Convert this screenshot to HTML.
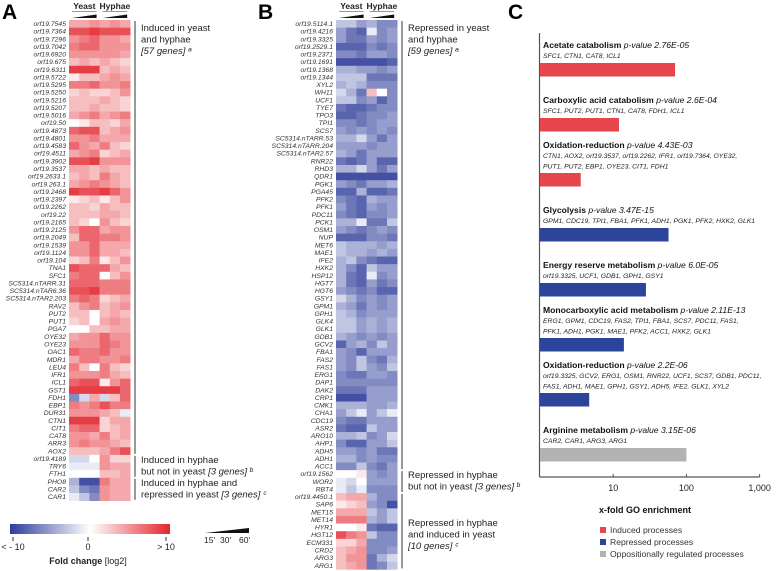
<!DOCTYPE html>
<html><head><meta charset="utf-8"><style>
body{margin:0;background:#fff}
svg{display:block;font-family:"Liberation Sans",sans-serif}
.g{font-size:6.8px;font-style:italic;fill:#333}
.br{font-size:9.5px;fill:#222}
.ct{font-size:8.6px;fill:#111}
.cg{font-size:6.8px;font-style:italic;fill:#222}
</style></head><body>
<svg id="fig" width="778" height="571" viewBox="0 0 778 571">
<text x="2" y="19" font-size="21" font-weight="bold">A</text>
<text x="258" y="19" font-size="21" font-weight="bold">B</text>
<text x="508" y="19" font-size="21" font-weight="bold">C</text>
<g id="A"></g>
<g id="B"></g>
<g id="C"></g>
<defs><linearGradient id="cb" x1="0" x2="1"><stop offset="0" stop-color="#2e3d9a"/><stop offset="0.5" stop-color="#ffffff"/><stop offset="1" stop-color="#e3262e"/></linearGradient></defs>
<g>
<rect x="10" y="524" width="160" height="10" fill="url(#cb)"/>
<line x1="13" y1="537" x2="13" y2="541" stroke="#333"/><line x1="88" y1="537" x2="88" y2="541" stroke="#333"/><line x1="166" y1="537" x2="166" y2="541" stroke="#333"/>
<text x="13" y="550" font-size="9" text-anchor="middle" fill="#222">&lt; - 10</text>
<text x="88" y="550" font-size="9" text-anchor="middle" fill="#222">0</text>
<text x="166" y="550" font-size="9" text-anchor="middle" fill="#222">&gt; 10</text>
<text x="88" y="564" font-size="9" text-anchor="middle" fill="#222"><tspan font-weight="bold">Fold change</tspan> [log2]</text>
</g>
<g>
<polygon points="205,533 249,528 249,533" fill="#111"/>
<text x="204" y="543" font-size="8.5" fill="#222">15'</text><text x="220" y="543" font-size="8.5" fill="#222">30'</text><text x="239" y="543" font-size="8.5" fill="#222">60'</text>
</g>
</svg>
<script>
const NS="http://www.w3.org/2000/svg";
const genesA=["orf19.7545","orf19.7364","orf19.7296","orf19.7042","orf19.6920","orf19.675","orf19.6311","orf19.5722","orf19.5295","orf19.5250","orf19.5216","orf19.5207","orf19.5016","orf19.50","orf19.4873","orf19.4801","orf19.4583","orf19.4511","orf19.3902","orf19.3537","orf19.2633.1","orf19.263.1","orf19.2468","orf19.2397","orf19.2262","orf19.22","orf19.2165","orf19.2125","orf19.2049","orf19.1539","orf19.1124","orf19.104","TNA1","SFC1","SC5314.nTARR.31","SC5314.nTAR6.36","SC5314.nTAR2.203","RAV2","PUT2","PUT1","PGA7","OYE32","OYE23","OAC1","MDR1","LEU4","IFR1","ICL1","GST1","FDH1","EBP1","DUR31","CTN1","CIT1","CAT8","ARR3","AOX2","orf19.4189","TRY6","FTH1","PHO8","CAR2","CAR1"];
const valuesA=[[4,4,5,4,5,4],[8,8,9,8,8,8],[5,6,7,5,5,4],[6,7,7,5,5,5],[5,5,5,5,5,4],[3,4,3,4,3,2],[9,9,9,3,4,3],[1,3,3,4,5,4],[6,6,7,5,5,6],[2,3,2,2,3,5],[3,3,3,4,3,2],[3,3,4,3,3,2],[4,5,6,4,5,6],[0,1,3,3,2,4],[7,8,8,3,4,5],[5,5,6,4,4,4],[7,5,4,6,3,2],[4,5,6,2,3,4],[8,8,9,5,5,5],[4,4,3,4,3,3],[3,4,3,6,4,3],[4,5,6,5,4,3],[9,8,8,9,7,5],[1,2,3,1,3,5],[3,3,2,4,3,3],[3,3,3,4,4,3],[3,2,0,5,3,2],[5,7,7,4,5,5],[3,7,7,6,6,5],[5,5,7,4,4,4],[5,5,7,4,4,3],[2,3,6,1,3,5],[8,7,7,7,4,3],[6,7,7,0,3,5],[7,7,7,6,6,6],[8,8,9,6,6,6],[6,7,6,2,3,4],[3,5,6,3,4,5],[3,3,0,3,4,3],[2,3,0,4,5,4],[0,0,3,3,4,4],[4,5,5,7,5,5],[5,5,5,7,6,5],[7,6,6,7,5,5],[4,6,6,5,5,6],[6,3,0,6,3,2],[5,5,5,6,4,3],[7,8,8,1,5,7],[9,9,9,9,9,7],[-6,-2,4,-2,3,7],[6,5,6,8,6,6],[5,5,5,4,3,-1],[9,9,9,2,4,4],[6,7,7,2,3,4],[5,5,4,6,3,4],[5,6,5,5,4,3],[3,3,3,4,6,8],[-2,-2,0,5,2,2],[-1,-1,-1,5,4,4],[0,0,0,3,3,4],[-4,-9,-9,6,4,4],[-3,-6,-7,5,4,4],[-1,-3,-6,5,4,4]];
const genesB=["orf19.5114.1","orf19.4216","orf19.3325","orf19.2529.1","orf19.2371","orf19.1691","orf19.1368","orf19.1344","XYL2","WH11","UCF1","TYE7","TPO3","TPI1","SCS7","SC5314.nTARR.53","SC5314.nTARR.204","SC5314.nTAR2.57","RNR22","RHD3","QDR1","PGK1","PGA45","PFK2","PFK1","PDC11","PCK1","OSM1","NUP","MET6","MAE1","IFE2","HXK2","HSP12","HGT7","HGT6","GSY1","GPM1","GPH1","GLK4","GLK1","GDB1","GCV2","FBA1","FAS2","FAS1","ERG1","DAP1","DAK2","CRP1","CMK1","CHA1","CDC19","ASR2","ARO10","AHP1","ADH5","ADH1","ACC1","orf19.1562","WOR2","RBT4","orf19.4450.1","SAP6","MET15","MET14","HYR1","HGT12","ECM331","CRD2","ARG3","ARG1"];
const valuesB=[[-3,-3,-5,-4,-6,-6],[-5,-7,-8,-1,-6,-5],[-5,-7,-7,-5,-6,-5],[-8,-8,-8,-6,-7,-6],[-6,-6,-7,-5,-5,-6],[-9,-9,-9,-9,-9,-8],[-4,-4,-5,-5,-6,-5],[-3,-3,-3,-7,-7,-7],[-4,-3,-4,-6,-6,-6],[-2,-4,-7,3,0,-6],[-3,-3,-6,-5,-8,-6],[-7,-8,-8,-7,-6,-6],[-8,-8,-7,-6,-6,-5],[-6,-6,-7,-6,-5,-5],[-5,-6,-5,-6,-5,-6],[-4,-4,-2,-5,-7,-5],[-5,-5,-5,-6,-5,-5],[-4,-5,-7,-5,-5,-5],[-7,-8,-7,-5,-8,-8],[-4,-4,-2,-5,-7,-5],[-9,-9,-9,-9,-9,-9],[-5,-6,-7,-5,-5,-4],[-8,-8,-4,-8,-8,-7],[-6,-7,-8,-4,-5,-5],[-5,-7,-8,-5,-6,-5],[-6,-7,-8,-6,-6,-5],[-4,-4,-1,-7,-7,-3],[-5,-6,-7,-6,-5,-6],[-8,-8,-8,-6,-6,-7],[-3,-4,-4,-4,-5,-4],[-3,-4,-4,-5,-4,-5],[-4,-3,-6,-7,-8,-8],[-4,-6,-8,-3,-5,-5],[-4,-7,-8,-1,-6,-5],[-4,-7,-8,-5,-7,-6],[-5,-6,-7,-6,-8,-8],[-2,-4,-6,-5,-6,-5],[-4,-5,-7,-5,-6,-5],[-3,-4,-6,-5,-5,-5],[-3,-3,-5,-4,-5,-4],[-3,-3,-5,-4,-5,-4],[-4,-5,-6,-5,-6,-5],[-8,-5,-4,-6,-3,-5],[-5,-6,-8,-5,-5,-5],[-5,-6,-3,-6,-7,-4],[-5,-6,-3,-5,-6,-3],[-6,-7,-7,-5,-5,-6],[-6,-6,-6,-6,-6,-6],[-7,-7,-7,-5,-5,-5],[-9,-9,-9,-5,-5,-5],[-4,-4,-4,-5,-5,-4],[-5,-3,-1,-5,-3,-1],[-6,-7,-7,-5,-5,-5],[-7,-8,-8,-3,-5,-5],[-4,-4,-3,-6,-5,-2],[-6,-8,-8,-5,-5,-3],[-5,-5,-6,-5,-7,-7],[-4,-4,-6,-5,-6,-6],[-6,-6,-3,-6,-7,-5],[0,0,1,-5,-6,-5],[-1,-2,0,-5,-5,-5],[-1,-3,-1,-6,-6,-6],[3,4,4,-4,-6,-6],[1,2,3,-5,-6,-9],[4,4,4,-3,-5,-3],[6,6,6,-4,-5,-3],[0,0,1,-7,-8,-8],[8,6,5,-3,-6,-6],[2,2,4,-6,-6,-6],[3,4,5,-6,-6,-5],[3,5,5,-7,-4,-2],[3,4,5,-7,-6,-3]];
const groupsA=[[57,["Induced in yeast","and hyphae","[57 genes] ᵃ"]],[3,["Induced in hyphae","but not in yeast [3 genes] ᵇ"]],[3,["Induced in hyphae and","repressed in yeast [3 genes] ᶜ"]]];
const groupsB=[[59,["Repressed in yeast","and hyphae","[59 genes] ᵃ"]],[3,["Repressed in hyphae","but not in yeast [3 genes] ᵇ"]],[10,["Repressed in hyphae","and induced in yeast","[10 genes] ᶜ"]]];
const goTerms=["Acetate catabolism","Carboxylic acid catabolism","Oxidation-reduction","Glycolysis","Energy reserve metabolism","Monocarboxylic acid metabolism","Oxidation-reduction","Arginine metabolism"];
const goPvalues=["2.76E-05","2.6E-04","4.43E-03","3.47E-15","6.0E-05","2.11E-13","2.2E-06","3.15E-06"];
const goFold=[70,12,3.6,57,28,14,4.7,100];
const goType=["induced","induced","induced","repressed","repressed","repressed","repressed","opposite"];
const goGenes=[["SFC1, CTN1, CAT8, ICL1"],["SFC1, PUT2, PUT1, CTN1, CAT8, FDH1, ICL1"],["CTN1, AOX2, orf19.3537, orf19.2262, IFR1, orf19.7364, OYE32,","PUT1, PUT2, EBP1, OYE23, CIT1, FDH1"],["GPM1, CDC19, TPI1, FBA1, PFK1, ADH1, PGK1, PFK2, HXK2, GLK1"],["orf19.3325, UCF1, GDB1, GPH1, GSY1"],["ERG1, GPM1, CDC19, FAS2, TPI1, FBA1, SCS7, PDC11, FAS1,","PFK1, ADH1, PGK1, MAE1, PFK2, ACC1, HXK2, GLK1"],["orf19.3325, GCV2, ERG1, OSM1, RNR22, UCF1, SCS7, GDB1, PDC11,","FAS1, ADH1, MAE1, GPH1, GSY1, ADH5, IFE2, GLK1, XYL2"],["CAR2, CAR1, ARG3, ARG1"]];
const axisTicks=[10,100,1000];
const axisTickLabels=["10","100","1,000"];

function mk(p,tag,at,txt){const e=document.createElementNS(NS,tag);for(const k in at)e.setAttribute(k,at[k]);if(txt!==undefined)e.textContent=txt;p.appendChild(e);return e;}
function color(v){const t=Math.min(Math.abs(v)/10,1);const c=v>=0?[227,38,46]:[46,61,154];const r=Math.round(255+(c[0]-255)*t),g=Math.round(255+(c[1]-255)*t),b=Math.round(255+(c[2]-255)*t);return `rgb(${r},${g},${b})`;}
const rowH=7.63, topY=20, cellW=10.2;
function heat(id,x0,genes,vals,groups,bx){
  const g=document.getElementById(id);
  const yr=i=>topY+i*rowH;
  const xc=j=>x0+j*cellW;
  vals.forEach((row,i)=>{
    const t=mk(g,'text',{x:x0-3,y:yr(i)+rowH-1.6,'text-anchor':'end',class:'g'},genes[i]);
    
    
    row.forEach((v,j)=>{
      const r=mk(g,'rect',{x:xc(j),y:yr(i),width:cellW+0.3,height:rowH+0.3,fill:color(v)});
      
      
    });
  });
  const h1=mk(g,'text',{x:xc(1.5),y:9,'text-anchor':'middle','font-size':'8.5','font-weight':'bold',fill:'#222'},'Yeast');
  
  
  const h2=mk(g,'text',{x:xc(4.5),y:9,'text-anchor':'middle','font-size':'8.5','font-weight':'bold',fill:'#222'},'Hyphae');
  
  
  mk(g,'line',{x1:xc(0)+3,x2:xc(3)-3,y1:11.5,y2:11.5,stroke:'#999'});
  mk(g,'line',{x1:xc(3)+3,x2:xc(6)-3,y1:11.5,y2:11.5,stroke:'#999'});
  [0,3].forEach(s=>mk(g,'polygon',{points:`${xc(s)+3},18 ${xc(s+3)-3},14.5 ${xc(s+3)-3},18`,fill:'#111'}));
  let start=0;
  groups.forEach(([n,lines])=>{
    const y1=yr(start)+1,y2=yr(start+n)-1;
    const l=mk(g,'line',{x1:bx,x2:bx,y1:y1,y2:y2,stroke:'#333','stroke-width':1});
    
    
    const ty = n>20 ? y1+10 : (n>5 ? y1+(y2-y1)/2-5 : y1+7);
    lines.forEach((s,k)=>{
      const t=mk(g,'text',{x:bx+6,y:ty+k*11.5,class:'br'});
      const m=s.match(/^(.*?)(\[.*)$/);
      if(m){ if(m[1]) mk(t,'tspan',{},m[1]); mk(t,'tspan',{'font-style':'italic'},m[2]); } else t.textContent=s;
      
      
    });
    start+=n;
  });
}
heat('A',69,genesA,valuesA,groupsA,135);
heat('B',336,genesB,valuesB,groupsB,402);

(function(){
  const g=document.getElementById('C');
  const x1=540, dec=73.2;
  const xs=v=>x1+Math.log10(v)*dec;
  const axisY=477;
  mk(g,'line',{x1:539.5,x2:539.5,y1:33,y2:axisY,stroke:'#555','stroke-width':1.2});
  mk(g,'line',{x1:539.5,x2:xs(1000),y1:axisY,y2:axisY,stroke:'#555','stroke-width':1.2});
  axisTicks.forEach((v,i)=>{
    mk(g,'line',{x1:xs(v),x2:xs(v),y1:axisY-3,y2:axisY,stroke:'#555'});
    const t=mk(g,'text',{x:xs(v),y:491,'text-anchor':'middle','font-size':'9',fill:'#222'},axisTickLabels[i]);
    
    
  });
  const xt=mk(g,'text',{x:645,y:513,'text-anchor':'middle','font-size':'9','font-weight':'bold',fill:'#111'},'x-fold GO enrichment');
  
  
  const cols={induced:'#e5454b',repressed:'#2c459b',opposite:'#b3b3b3'};
  goTerms.forEach((term,i)=>{
    const barY=63+i*55;
    const nl=goGenes[i].length;
    const ty=barY-15-10*(nl-1);
    const t=mk(g,'text',{x:543,y:ty,class:'ct'});
    mk(t,'tspan',{'font-weight':'bold'},term+' ');
    mk(t,'tspan',{'font-style':'italic'},'p-value '+goPvalues[i]);
    
    
    goGenes[i].forEach((s,k)=>{
      const gt=mk(g,'text',{x:543,y:ty+10+k*10.3,class:'cg'},s);
      
      
    });
    const bar=mk(g,'rect',{x:540,y:barY,width:xs(goFold[i])-540,height:13.5,fill:cols[goType[i]]});
    
    
  });
  const leg=[['#e5454b','Induced processes'],['#2c459b','Repressed processes'],['#b3b3b3','Oppositionally regulated processes']];
  leg.forEach(([c,s],i)=>{
    const y=530+i*12;
    const r=mk(g,'rect',{x:600,y:y-3,width:6,height:6,fill:c});
    
    
    const t=mk(g,'text',{x:610,y:y+3,'font-size':'8.6',fill:'#333'},s);
    
    
  });
})();
</script>
</body></html>
